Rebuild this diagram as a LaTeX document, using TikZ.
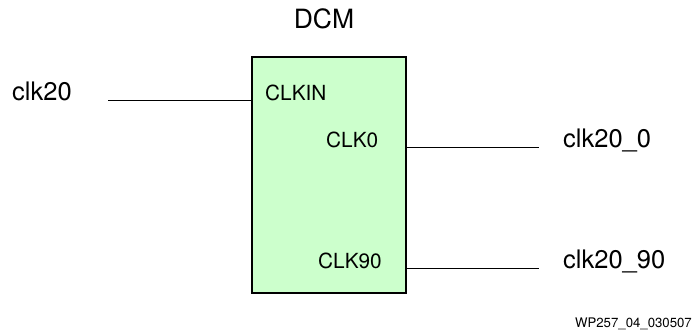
\documentclass[tikz,border=0pt]{standalone}
\usepackage{fontspec}
\setmainfont{TeX Gyre Heros}
\usetikzlibrary{positioning,calc}
\definecolor{dcmgreen}{HTML}{CCFFCC}

\begin{document}
\begin{tikzpicture}[x=1pt, y=-1pt]
			\tikzstyle{Block}	= [draw, line width=2.5pt, fill=dcmgreen, minimum width=154pt, minimum height=236pt, inner sep=0pt]
			\tikzstyle{Pin}		= [inner sep=0pt, anchor=base west, font=\fontsize{20.8}{24}\selectfont]
			\tikzstyle{Net}		= [inner sep=0pt, anchor=base west, font=\fontsize{25.5}{30}\selectfont]
			\tikzstyle{Wire}	= [line width=1pt]

			\useasboundingbox (0,0) rectangle (693,331);

			\node (dcm) at (329,175) [Block] {};
			\node (title) at (324,29) [inner sep=0pt, anchor=base, font=\fontsize{26.5}{30}\selectfont] {DCM};

			\node (clkin) at (265,101) [Pin] {CLKIN};
			\node (clk0) at (326,148) [Pin] {CLK0};
			\node (clk90) at (318,268) [Pin] {CLK90};

			\node (n20) at (12,101) [Net] {clk20};
			\node (n0) at (563,148) [Net] {clk20\_0};
			\node (n90) at (563,268) [Net] {clk20\_90};

			\coordinate (w20) at (108,101);
			\coordinate (w0) at (539,148);
			\coordinate (w90) at (539,268);

			\draw [Wire] (w20) -- (w20 -| dcm.west);
			\draw [Wire] (dcm.east |- w0) -- (w0);
			\draw [Wire] (dcm.east |- w90) -- (w90);

			\node (tag) at (692,327) [inner sep=0pt, anchor=base east, font=\fontsize{13.2}{15}\selectfont] {WP257\_04\_030507};
		\end{tikzpicture}
\end{document}
